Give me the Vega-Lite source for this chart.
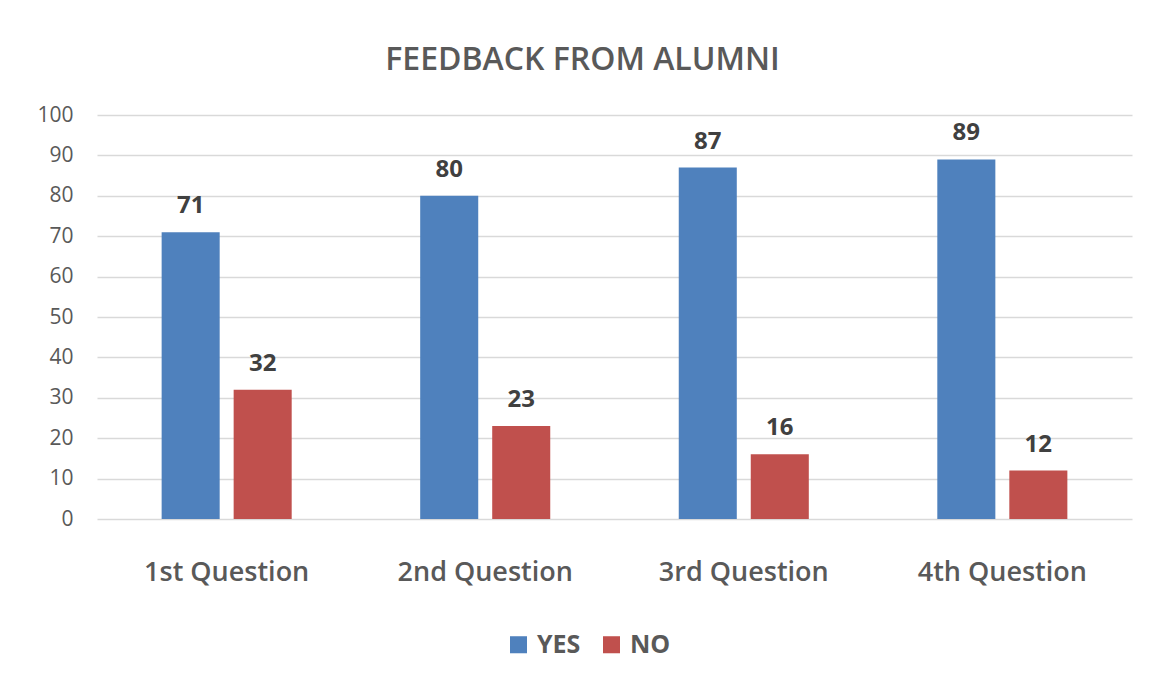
{
  "$schema": "https://vega.github.io/schema/vega-lite/v6.json",
  "autosize": {"type": "none"},
  "width": 1035,
  "height": 404,
  "padding": {"left": 97, "top": 115, "right": 18, "bottom": 158},
  "background": "white",
  "config": {
    "font": "Open Sans",
    "view": {"stroke": null}
  },
  "title": {
    "text": "FEEDBACK FROM ALUMNI",
    "fontSize": 32,
    "fontWeight": 600,
    "color": "#595959",
    "anchor": "middle",
    "dx": -32,
    "baseline": "alphabetic",
    "offset": 2
  },
  "data": {
    "values": [
      {"question": "1st Question", "answer": "YES", "value": 71},
      {"question": "1st Question", "answer": "NO", "value": 32},
      {"question": "2nd Question", "answer": "YES", "value": 80},
      {"question": "2nd Question", "answer": "NO", "value": 23},
      {"question": "3rd Question", "answer": "YES", "value": 87},
      {"question": "3rd Question", "answer": "NO", "value": 16},
      {"question": "4th Question", "answer": "YES", "value": 89},
      {"question": "4th Question", "answer": "NO", "value": 12}
    ]
  },
  "encoding": {
    "x": {
      "field": "question",
      "type": "nominal",
      "sort": null,
      "scale": {"paddingInner": 0.497, "paddingOuter": 0.25},
      "axis": {
        "title": null,
        "labelAngle": 0,
        "labelFontSize": 27,
        "labelFontWeight": 600,
        "labelColor": "#595959",
        "labelBaseline": "alphabetic",
        "labelPadding": 61,
        "ticks": false,
        "domain": false,
        "grid": false
      }
    },
    "xOffset": {
      "field": "answer",
      "type": "nominal",
      "sort": ["YES", "NO"],
      "scale": {"paddingInner": 0.194, "paddingOuter": 0}
    },
    "y": {
      "field": "value",
      "type": "quantitative",
      "scale": {"domain": [0, 100], "nice": false},
      "axis": {
        "title": null,
        "values": [0, 10, 20, 30, 40, 50, 60, 70, 80, 90, 100],
        "labelFontSize": 21,
        "labelColor": "#595959",
        "labelPadding": 24,
        "ticks": false,
        "domain": false,
        "grid": true,
        "gridColor": "#d9d9d9",
        "gridWidth": 1.3
      }
    }
  },
  "layer": [
    {
      "mark": {"type": "bar"},
      "encoding": {
        "color": {
          "field": "answer",
          "type": "nominal",
          "sort": ["YES", "NO"],
          "scale": {"domain": ["YES", "NO"], "range": ["#4F81BD", "#C0504D"]},
          "legend": {
            "title": null,
            "orient": "none",
            "direction": "horizontal",
            "legendX": 409,
            "legendY": 517,
            "symbolType": "square",
            "symbolSize": 290,
            "symbolStrokeWidth": 0,
            "symbolOpacity": 1,
            "labelFontSize": 25,
            "labelFontWeight": "bold",
            "labelColor": "#595959",
            "labelOffset": 6,
            "columnPadding": 18
          }
        }
      }
    },
    {
      "mark": {
        "type": "text",
        "baseline": "alphabetic",
        "dy": -19,
        "fontSize": 24,
        "fontWeight": "bold",
        "color": "#404040"
      },
      "encoding": {
        "text": {"field": "value", "type": "quantitative"}
      }
    }
  ]
}
